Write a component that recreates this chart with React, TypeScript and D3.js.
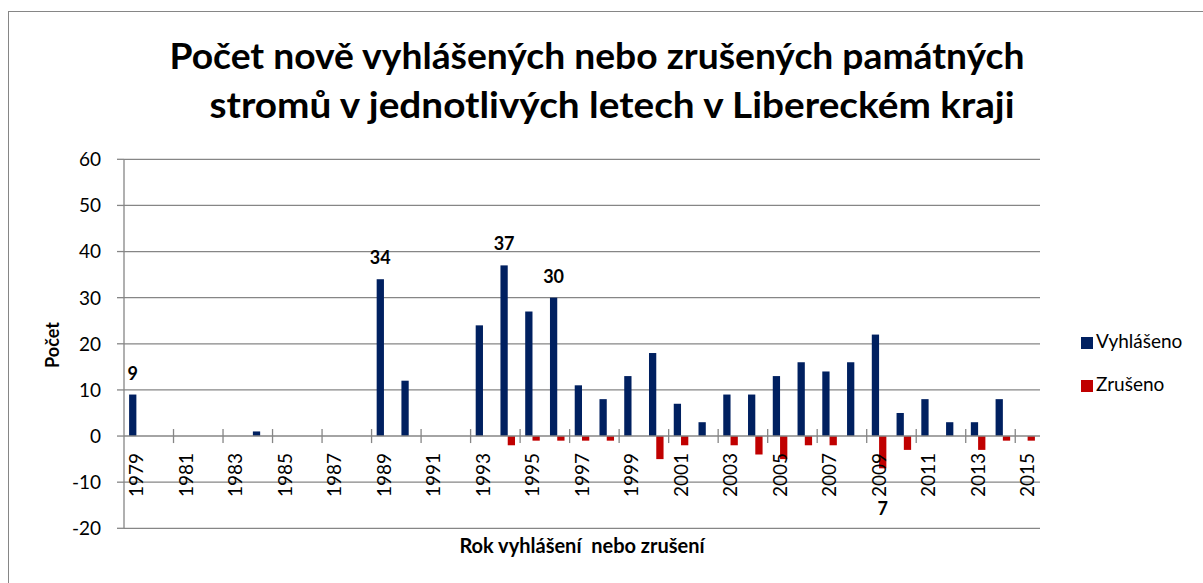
import * as d3 from "d3"
import React from "react"

// roky (kategorie)
const years = [
  "1979", "1980", "1981", "1982", "1983", "1984", "1985", "1986", "1987", "1988",
  "1989", "1990", "1991", "1992", "1993", "1994", "1995", "1996", "1997", "1998",
  "1999", "2000", "2001", "2002", "2003", "2004", "2005", "2006", "2007", "2008",
  "2009", "2010", "2011", "2012", "2013", "2014", "2015",
]
const vyhlaseno = [
  9, 0, 0, 0, 0, 1, 0, 0, 0, 0,
  34, 12, 0, 0, 24, 37, 27, 30, 11, 8,
  13, 18, 7, 3, 9, 9, 13, 16, 14, 16,
  22, 5, 8, 3, 3, 8, 0,
]
const zruseno = [
  0, 0, 0, 0, 0, 0, 0, 0, 0, 0,
  0, 0, 0, 0, 0, -2, -1, -1, -1, -1,
  0, -5, -2, 0, -2, -4, -5, -2, -2, 0,
  -7, -3, 0, 0, -3, -1, -1,
]
const seriesNames = ["Vyhlášeno", "Zrušeno"]
const seriesColors = ["#002060", "#C00000"]
const yTicks = [-20, -10, 0, 10, 20, 30, 40, 50, 60]
// popisky dat: [rok, index řady]
const dataLabels: [string, number][] = [
  ["1979", 0], ["1989", 0], ["1994", 0], ["1996", 0], ["2009", 1],
]

const font = "Lato, 'Open Sans', sans-serif"
const grid = "#868686"

export default function App() {
  const left = 124, right = 1040, top = 159.3, bottom = 528.3
  const series = [vyhlaseno, zruseno]

  const x = d3.scaleBand().domain(years).range([left, right]).paddingInner(0.412).paddingOuter(0.206)
  const x1 = d3.scaleBand().domain(seriesNames).range([0, x.bandwidth()])
  const y = d3.scaleLinear().domain([-20, 60]).range([bottom, top])
  const step = x.step()
  const y0 = y(0)

  const boundaries = d3.range(2, years.length, 2).map((i) => left + i * step)
  const labelYears = years.filter((d, i) => i % 2 === 0)

  return (
    <svg width={1203} height={583} style={{ position: "absolute", left: 0, top: 0, background: "#fff" }}>
      <rect x={8.5} y={11.5} width={1300} height={700} fill="#fff" stroke={grid} strokeWidth={1} />

      <text textAnchor="middle" fontFamily={font} fontWeight="bold" fontSize={37} fill="#000">
        <tspan x={597} y={69} textLength={855} lengthAdjust="spacingAndGlyphs">
          Počet nově vyhlášených nebo zrušených památných
        </tspan>
        <tspan x={612} y={118} textLength={805} lengthAdjust="spacingAndGlyphs">
          stromů v jednotlivých letech v Libereckém kraji
        </tspan>
      </text>

      {/* mřížka */}
      {yTicks.filter((t) => t !== 0).map((t) => (
        <line key={t} x1={left} x2={right} y1={y(t)} y2={y(t)} stroke={grid} strokeWidth={1.3} />
      ))}

      {/* sloupce */}
      {years.map((yr, i) => (
        <g key={yr} transform={`translate(${x(yr)},0)`}>
          {series.map((s, j) => {
            const v = s[i]
            if (v === 0) return null
            return (
              <rect
                key={j}
                x={x1(seriesNames[j])}
                y={Math.min(y(v), y0)}
                width={x1.bandwidth()}
                height={Math.abs(y(v) - y0)}
                fill={seriesColors[j]}
              />
            )
          })}
        </g>
      ))}

      {/* osa y */}
      <line x1={left} x2={left} y1={top} y2={bottom} stroke={grid} strokeWidth={1.3} />
      {yTicks.map((t) => (
        <g key={t}>
          <line x1={left - 7} x2={left} y1={y(t)} y2={y(t)} stroke={grid} strokeWidth={1.3} />
          <text x={101} y={y(t)} dy="0.36em" textAnchor="end" fontFamily={font} fontSize={19} fill="#000">
            {t}
          </text>
        </g>
      ))}

      {/* osa x */}
      <line x1={left} x2={right} y1={y0} y2={y0} stroke={grid} strokeWidth={1.5} />
      {boundaries.map((bx) => (
        <line key={bx} x1={bx} x2={bx} y1={y0 - 7} y2={y0 + 7} stroke={grid} strokeWidth={1.3} />
      ))}
      {labelYears.map((yr) => {
        const cx = (x(yr) as number) + x.bandwidth() / 2
        return (
          <text
            key={yr}
            transform={`translate(${cx},453) rotate(-90)`}
            dy="0.36em"
            textAnchor="end"
            fontFamily={font}
            fontSize={19}
            fill="#000"
          >
            {yr}
          </text>
        )
      })}

      {/* popisky dat */}
      {dataLabels.map(([yr, j]) => {
        const v = series[j][years.indexOf(yr)]
        const cx = (x(yr) as number) + (x1(seriesNames[j]) as number) + x1.bandwidth() / 2
        const ly = v >= 0 ? y(v) - 15 : y(v) + 47
        return (
          <text key={yr} x={cx} y={ly} textAnchor="middle" fontFamily={font} fontWeight="bold" fontSize={18} fill="#000">
            {Math.abs(v)}
          </text>
        )
      })}

      {/* názvy os */}
      <text
        transform={`translate(53,345) rotate(-90)`}
        dy="0.35em"
        textAnchor="middle"
        fontFamily={font}
        fontWeight="bold"
        fontSize={18}
        fill="#000"
      >
        Počet
      </text>
      <text
        x={582}
        y={553}
        textAnchor="middle"
        fontFamily={font}
        fontWeight="bold"
        fontSize={20}
        fill="#000"
        style={{ whiteSpace: "pre" }}
      >
        Rok vyhlášení  nebo zrušení
      </text>

      {/* legenda */}
      {seriesNames.map((n, j) => (
        <g key={n} transform={`translate(1081,${337 + j * 43})`}>
          <rect x={0} y={0} width={12} height={12} fill={seriesColors[j]} />
          <text x={15} y={11} fontFamily={font} fontSize={19} fill="#000">
            {n}
          </text>
        </g>
      ))}
    </svg>
  )
}
